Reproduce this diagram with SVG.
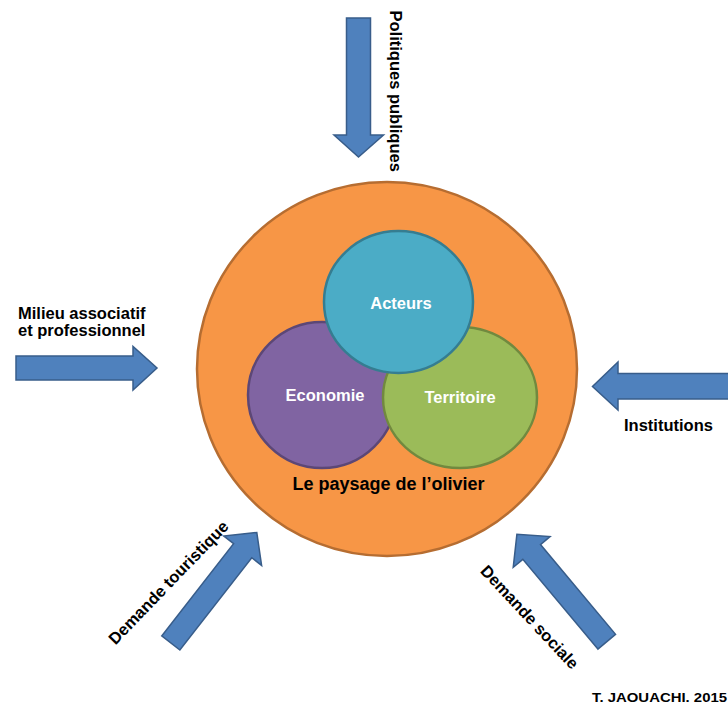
<svg xmlns="http://www.w3.org/2000/svg" width="728" height="707" viewBox="0 0 728 707">
  <style>
    .lbl { font-family: "Liberation Sans", Arial, sans-serif; font-weight: bold; font-size: 16.5px; fill: #000; }
    .in { font-family: "Liberation Sans", Arial, sans-serif; font-weight: bold; font-size: 16.5px; fill: #fff; text-anchor: middle; }
    .arrow { fill: #4F81BD; stroke: #385D8A; stroke-width: 1.5; stroke-linejoin: miter; }
  </style>
  <defs>
    <path id="diag" d="M0,-11.5 H117 V-24 L140,0 L117,24 V11.5 H0 Z"/>
  </defs>
  <rect width="728" height="707" fill="#fff"/>

  <g id="paysage">
    <ellipse cx="387" cy="369" rx="190" ry="187" fill="#F79646" stroke="#B66D31" stroke-width="2.5"/>
    <text x="388.5" y="490" style="font-family:'Liberation Sans', Arial, sans-serif; font-weight:bold; font-size:18px; fill:#000; text-anchor:middle">Le paysage de l’olivier</text>
  </g>
  <g id="economie">
    <ellipse cx="322" cy="395" rx="74" ry="73" fill="#8064A2" stroke="#5C4776" stroke-width="2.5"/>
    <text class="in" x="325" y="401">Economie</text>
  </g>
  <g id="territoire">
    <ellipse cx="460" cy="397.5" rx="77" ry="70.5" fill="#9BBB59" stroke="#71893F" stroke-width="2.5"/>
    <text class="in" x="460" y="403">Territoire</text>
  </g>
  <g id="acteurs">
    <ellipse cx="398.5" cy="302" rx="74.5" ry="71" fill="#4BACC6" stroke="#357D91" stroke-width="2.5"/>
    <text class="in" x="401" y="309">Acteurs</text>
  </g>

  <g id="connectors">
    <path class="arrow" d="M346.5,18 H370.5 V135 H383.5 L358.5,157 L334,135 H346.5 Z"/>
    <path class="arrow" d="M16,356 H133 V346.5 L157,368 L133,390 V380 H16 Z"/>
    <path class="arrow" d="M731,373.5 H618 V362 L592.5,386.5 L618,410 V399 H731 Z"/>
    <use href="#diag" class="arrow" transform="translate(170.8,643) rotate(-52.1)"/>
    <use href="#diag" class="arrow" transform="translate(606.7,641.7) rotate(-129.9)"/>
  </g>

  <g id="politiques">
    <text class="lbl" transform="translate(389.5,10.5) rotate(90)">Politiques publiques</text>
  </g>
  <g id="milieu">
    <text class="lbl" x="18" y="318.5">Milieu associatif</text>
    <text class="lbl" x="18" y="335.5">et professionnel</text>
  </g>
  <g id="institutions">
    <text class="lbl" x="624" y="431">Institutions</text>
  </g>
  <g id="touristique">
    <text class="lbl" text-anchor="middle" transform="translate(172.5,586.5) rotate(-46)">Demande touristique</text>
  </g>
  <g id="sociale">
    <text class="lbl" text-anchor="middle" transform="translate(525.5,621) rotate(47)">Demande sociale</text>
  </g>
  <g id="credit">
    <text x="592" y="702" textLength="135" lengthAdjust="spacingAndGlyphs" style="font-family:'Liberation Sans', Arial, sans-serif; font-weight:bold; font-size:12.5px; fill:#000">T. JAOUACHI. 2015</text>
  </g>
</svg>
